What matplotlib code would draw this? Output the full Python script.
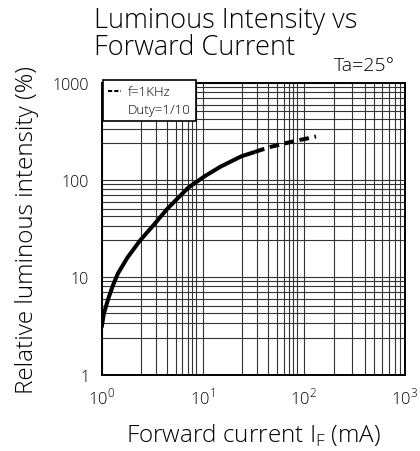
import numpy as np
import matplotlib
matplotlib.use("Agg")
import matplotlib.pyplot as plt
from matplotlib.ticker import FixedLocator, NullFormatter
from matplotlib.lines import Line2D

plt.rcParams["font.family"] = ["Open Sans", "DejaVu Sans"]
plt.rcParams["font.weight"] = "light"
plt.rcParams["axes.labelweight"] = "light"
plt.rcParams["mathtext.fontset"] = "custom"
plt.rcParams["mathtext.rm"] = "Open Sans:light"

# 数据
current_dc = [1.0, 1.05, 1.16, 1.3, 1.45, 1.8, 2.4, 3.3, 4.4, 5.8, 7.2, 10.6, 15, 24, 33]
lum_dc = [3.05, 4.2, 6.0, 8.4, 11, 16, 24, 35, 50, 67, 84, 111, 138, 176, 196]
current_pulse = [33, 45, 60, 85, 110, 132]
lum_pulse = [196, 218, 235, 256, 270, 282]

x_ticks = [1, 10, 100, 1000]
x_ticklabels = [r"$\mathrm{10}^{0}$", r"$\mathrm{10}^{1}$", r"$\mathrm{10}^{2}$", r"$\mathrm{10}^{3}$"]
y_ticks = [1, 10, 100, 1000]
y_ticklabels = ["1", "10", "100", "1000"]

# 原图网格线位置不均匀
x_minor_a = [2.43, 3.47, 4.47, 5.43, 6.3, 7.08, 7.76, 8.5]
x_minor_b = [2, 3, 4, 5, 6, 7, 8, 9]
y_minor = [2.4, 3.4, 4.3, 5.1, 6.0, 7.0, 8.1, 9.1]

fig = plt.figure(figsize=(4.2, 4.52), dpi=100)
ax = fig.add_axes([0.242, 0.169, 0.722, 0.645])

ax.plot(current_dc, lum_dc, color="black", lw=2.9, solid_capstyle="butt", zorder=3)
ax.plot(current_pulse, lum_pulse, color="black", lw=2.9, linestyle=(0, (2.4, 1.4)), zorder=3)

ax.set_xscale("log")
ax.set_yscale("log")
ax.set_xlim(1, 1000)
ax.set_ylim(1, 1000)

xm = [v for v in x_minor_a] + [v * 10 for v in x_minor_a] + [v * 100 for v in x_minor_b]
ym = [v * d for d in (1, 10, 100) for v in y_minor]
ax.xaxis.set_minor_locator(FixedLocator(xm))
ax.yaxis.set_minor_locator(FixedLocator(ym))
ax.xaxis.set_minor_formatter(NullFormatter())
ax.yaxis.set_minor_formatter(NullFormatter())
ax.set_xticks(x_ticks)
ax.set_xticklabels(x_ticklabels, fontsize=12)
ax.set_yticks(y_ticks)
ax.set_yticklabels(y_ticklabels, fontsize=11.5)
ax.tick_params(which="both", length=0, pad=9)

ax.grid(which="both", color="#333333", lw=0.8)
for s in ax.spines.values():
    s.set_linewidth(1.4)

ax.set_xlabel(r"Forward current I$_\mathrm{F}$ (mA)", fontsize=17.5, labelpad=10)
ax.set_ylabel("Relative luminous intensity (%)", fontsize=17.5, labelpad=10)

# 标题分两行写
fig.text(0.224, 0.985, "Luminous Intensity vs", fontsize=19.5, va="top", ha="left")
fig.text(0.224, 0.925, "Forward Current", fontsize=19.5, va="top", ha="left")
fig.text(0.795, 0.833, "Ta=25°", fontsize=14, va="bottom", ha="left")

# 图例
h1 = Line2D([], [], color="black", lw=1.5, linestyle=(0, (2, 1)))
h2 = Line2D([], [], color="none")
leg = ax.legend([h1, h2], ["f=1KHz", "Duty=1/10"], loc="upper left",
                bbox_to_anchor=(0.004, 1.01), borderaxespad=0, fancybox=False,
                edgecolor="black", framealpha=1, fontsize=9.5, handlelength=1.0,
                handletextpad=0.5, borderpad=0.4, labelspacing=0.35)
leg.get_frame().set_linewidth(1.2)

plt.savefig("out.png", dpi=100)
